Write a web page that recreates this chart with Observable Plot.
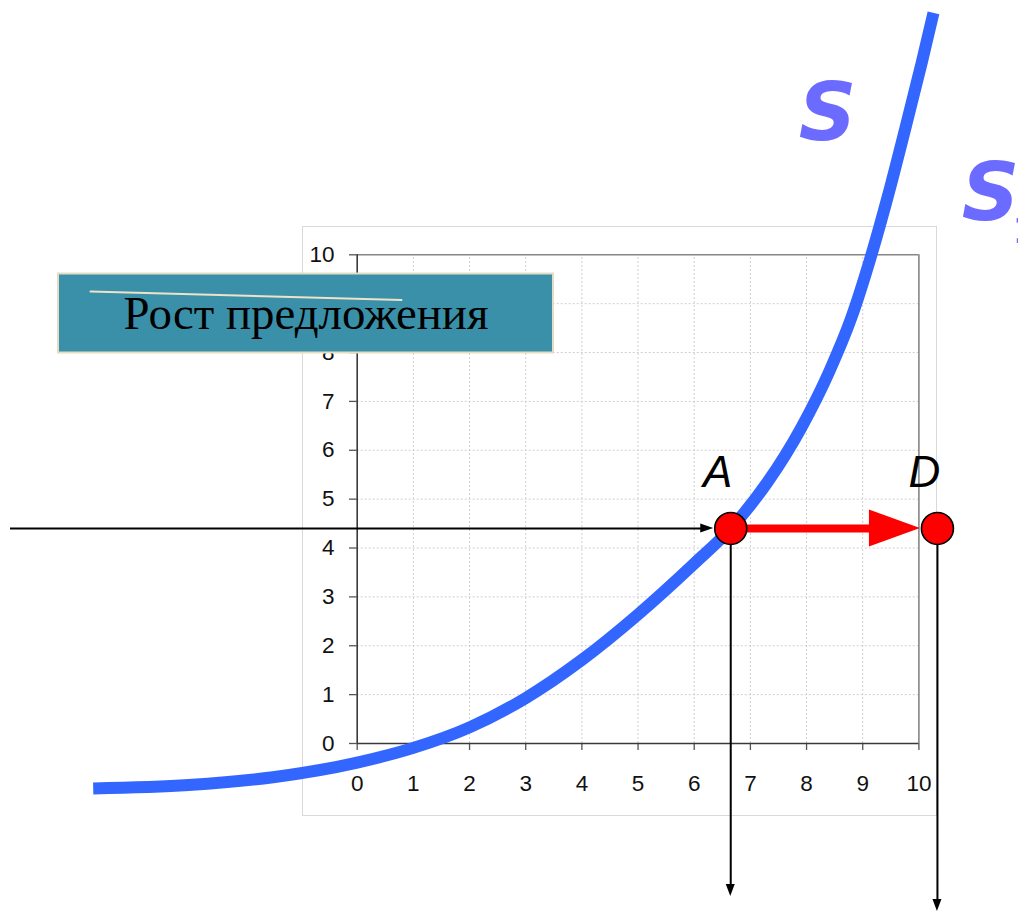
<!DOCTYPE html>
<html>
<head>
<meta charset="utf-8">
<script src="https://cdn.jsdelivr.net/npm/d3@7"></script>
<script src="https://cdn.jsdelivr.net/npm/@observablehq/plot@0.6"></script>
<style>
  html, body { margin: 0; padding: 0; background: #fff; }
  #chart svg { display: block; }
</style>
</head>
<body>
<div id="chart"></div>
<script>
// ---------- data ----------
const tickValues = [0, 1, 2, 3, 4, 5, 6, 7, 8, 9, 10];
const tickLabels = ["0", "1", "2", "3", "4", "5", "6", "7", "8", "9", "10"];

// supply curve S
const supplyX = [-4.70, -3.00, -1.50, 0.00, 1.00, 2.00, 3.00, 4.00, 5.00, 6.00, 6.65, 7.30, 7.90, 8.40, 8.80, 9.15, 9.45, 9.75, 10.05, 10.26];
const supplyY = [-0.92, -0.85, -0.69, -0.39, -0.09, 0.33, 0.93, 1.71, 2.64, 3.68, 4.40, 5.34, 6.45, 7.60, 8.72, 9.98, 11.21, 12.55, 13.93, 14.95];

// points
const pointNames = ["A", "D"];
const pointX = [6.65, 10.33];
const pointY = [4.40, 4.40];

const boxLabel = "Рост предложения";
const curveLabels = ["S", "S"];
const curveSub = "1";

// ---------- pixel <-> data mapping ----------
const W = 1018, H = 911;
const X0 = 356.7, XU = 56.17, Y0 = 743, YU = 48.87;
const fx = px => (px - X0) / XU;
const fy = py => (Y0 - py) / YU;
const tx = v => X0 + v * XU;
const ty = v => Y0 - v * YU;

const curve = supplyX.map((x, i) => ({x, y: supplyY[i]}));
const points = pointNames.map((n, i) => ({name: n, x: pointX[i], y: pointY[i]}));
const ticks = tickValues.map((v, i) => ({v, label: tickLabels[i]}));
const inner = ticks.filter(d => d.v > 0 && d.v < 10);

const A = points[0], D = points[1];
const R = 16;

// arrowheads as filled triangles
function headRight(tipPx, cyPx, len, half) {
  return [
    {x: fx(tipPx - len), y1: fy(cyPx - half), y2: fy(cyPx + half)},
    {x: fx(tipPx), y1: fy(cyPx), y2: fy(cyPx)}
  ];
}
function headDown(cxPx, tipPx, len, half) {
  return [
    {y: fy(tipPx - len), x1: fx(cxPx - half), x2: fx(cxPx + half)},
    {y: fy(tipPx), x1: fx(cxPx), x2: fx(cxPx)}
  ];
}

const axFont = "Liberation Sans, Arial, sans-serif";
const Apx = tx(A.x), Apy = ty(A.y), Dpx = tx(D.x), Dpy = ty(D.y);

const plot = Plot.plot({
  width: W, height: H,
  marginLeft: 0, marginRight: 0, marginTop: 0, marginBottom: 0,
  x: {domain: [fx(0), fx(W)], axis: null},
  y: {domain: [fy(H), fy(0)], axis: null},
  style: {background: "white"},
  marks: [
    // outer chart area
    Plot.rect([{}], {x1: fx(302.5), x2: fx(936.5), y1: fy(815.5), y2: fy(226.5), fill: "white", stroke: "#d9d9d9", strokeWidth: 1}),
    // grid
    Plot.ruleX(inner, {x: "v", y1: 0, y2: 10, stroke: "#cfcfcf", strokeWidth: 1, strokeDasharray: "2,2"}),
    Plot.ruleY(inner, {y: "v", x1: 0, x2: 10, stroke: "#cfcfcf", strokeWidth: 1, strokeDasharray: "2,2"}),
    // frame top / right
    Plot.ruleY([{}], {y: 10, x1: 0, x2: 10, stroke: "#868686", strokeWidth: 1.6}),
    Plot.ruleX([{}], {x: 10, y1: 0, y2: 10, stroke: "#868686", strokeWidth: 1.6}),
    // ticks
    Plot.ruleY(ticks, {y: "v", x1: fx(349), x2: 0, stroke: "#555", strokeWidth: 1.3}),
    Plot.ruleX(ticks, {x: "v", y1: fy(750), y2: 0, stroke: "#555", strokeWidth: 1.3}),
    // axis spines
    Plot.ruleX([{}], {x: 0, y1: 0, y2: 10, stroke: "#3a3a3a", strokeWidth: 1.6}),
    Plot.ruleY([{}], {y: 0, x1: 0, x2: 10, stroke: "#3a3a3a", strokeWidth: 1.6}),
    // tick labels
    Plot.text(ticks, {x: fx(334), y: "v", text: "label", textAnchor: "end", fontSize: 22.5, fontFamily: axFont, fill: "#111"}),
    Plot.text(ticks, {x: "v", y: fy(790), text: "label", lineAnchor: "bottom", fontSize: 22.5, fontFamily: axFont, fill: "#111"}),
    // supply curve
    Plot.line(curve, {x: "x", y: "y", curve: "monotone-x", stroke: "#3366ff", strokeWidth: 12, strokeLinecap: "butt", strokeLinejoin: "round"}),
    // label box
    Plot.rect([{}], {x1: fx(58), x2: fx(553), y1: fy(352.5), y2: fy(273.5), fill: "#3a90a8", stroke: "#e6dcc6", strokeWidth: 2}),
    Plot.line([{x: fx(90), y: fy(291)}, {x: fx(401), y: fy(299.5)}], {x: "x", y: "y", stroke: "#ece3c8", strokeWidth: 2}),
    Plot.text([boxLabel], {x: fx(305.5), y: fy(328), text: d => d, lineAnchor: "bottom", fontSize: 47, fontFamily: "Liberation Serif, Times New Roman, serif", fill: "#000"}),
    // horizontal black arrow into A
    Plot.ruleY([A], {y: "y", x1: fx(10), x2: fx(Apx - R - 12), stroke: "black", strokeWidth: 2}),
    Plot.areaY(headRight(Apx - R - 1, Apy, 13, 4.5), {x: "x", y1: "y1", y2: "y2", fill: "black"}),
    // vertical black arrows down from A and D
    Plot.ruleX([A], {x: "x", y1: "y", y2: fy(885), stroke: "black", strokeWidth: 2}),
    Plot.areaX(headDown(Apx, 896, 12, 4.5), {y: "y", x1: "x1", x2: "x2", fill: "black"}),
    Plot.ruleX([D], {x: "x", y1: "y", y2: fy(899), stroke: "black", strokeWidth: 2}),
    Plot.areaX(headDown(Dpx, 911, 12, 4.5), {y: "y", x1: "x1", x2: "x2", fill: "black"}),
    // red shift arrow A -> D
    Plot.ruleY([A], {y: "y", x1: "x", x2: fx(872), stroke: "#ff0000", strokeWidth: 8}),
    Plot.areaY(headRight(Dpx - R - 1, Dpy, 51, 18.5), {x: "x", y1: "y1", y2: "y2", fill: "#ff0000"}),
    // points
    Plot.dot(points, {x: "x", y: "y", r: R, fill: "#ff0000", stroke: "black", strokeWidth: 1.6}),
    Plot.text(points, {x: "x", y: "y", text: "name", dx: -13, dy: -41, lineAnchor: "bottom", fontSize: 44, fontStyle: "italic", fontFamily: axFont, fill: "black"}),
    // curve labels
    Plot.text([curveLabels[0]], {x: fx(827), y: fy(139), text: d => d, lineAnchor: "bottom", fontSize: 80, fontWeight: "bold", fontStyle: "italic", fontFamily: "DejaVu Sans, Verdana, sans-serif", fill: "#6b6bff"}),
    Plot.text([curveLabels[1]], {x: fx(990), y: fy(219), text: d => d, lineAnchor: "bottom", fontSize: 80, fontWeight: "bold", fontStyle: "italic", fontFamily: "DejaVu Sans, Verdana, sans-serif", fill: "#6b6bff"}),
    Plot.text([curveSub], {x: fx(1012), y: fy(242), text: d => d, textAnchor: "start", lineAnchor: "bottom", fontSize: 36, fontWeight: "bold", fontFamily: "DejaVu Sans, Verdana, sans-serif", fill: "#6b6bff"})
  ]
});

d3.select(plot).selectAll("text").each(function() {
  if (this.textContent === boxLabel) {
    d3.select(this).attr("textLength", 365).attr("lengthAdjust", "spacingAndGlyphs");
  }
});

document.getElementById("chart").appendChild(plot);
</script>
</body>
</html>
